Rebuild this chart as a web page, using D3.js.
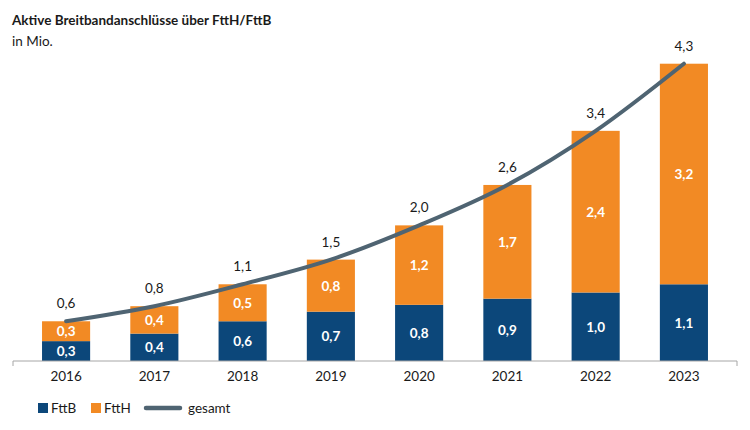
<!DOCTYPE html>
<html>
<head>
<meta charset="utf-8">
<script src="https://cdn.jsdelivr.net/npm/d3@7"></script>
<style>
  body { margin: 0; background: #fff; }
  svg { display: block; font-family: "Lato", "Noto Sans", sans-serif; }
</style>
</head>
<body>
<svg id="chart" width="750" height="430"></svg>
<script>
// data, Mio. Anschluesse
var years = ['2016', '2017', '2018', '2019', '2020', '2021', '2022', '2023'];
var fttb = [0.29, 0.40, 0.58, 0.72, 0.82, 0.91, 1.00, 1.12];
var ftth = [0.29, 0.40, 0.54, 0.76, 1.16, 1.66, 2.36, 3.22];
var seriesNames = ['FttB', 'FttH', 'gesamt'];

var colors = { FttB: '#0c477a', FttH: '#f28a24', gesamt: '#4f6472' };

var svg = d3.select('#chart');
var baseY = 361;
var fs = '13.5px';

var x = d3.scaleBand()
    .domain(years)
    .range([22, 728])
    .paddingInner(0.455)
    .paddingOuter(0.227);

var y = d3.scaleLinear()
    .domain([0, 4.4])
    .range([baseY, baseY - 4.4 * 68.5]);

function fmt(v) {
    return (Math.round(v * 10) / 10).toFixed(1).replace('.', ',');
}

var rows = years.map(function(yr, i) {
    return { year: yr, b: fttb[i], h: ftth[i], total: fttb[i] + ftth[i] };
});

// title
svg.append('text')
    .attr('x', 12).attr('y', 25)
    .style('font-size', fs).style('font-weight', 'bold').style('fill', '#1a1a1a')
    .text('Aktive Breitbandanschlüsse über FttH/FttB');
svg.append('text')
    .attr('x', 12).attr('y', 46)
    .style('font-size', fs).style('fill', '#1a1a1a')
    .text('in Mio.');

// bars
var g = svg.append('g');
var bw = x.bandwidth();

g.selectAll('rect.fttb')
    .data(rows).enter()
    .append('rect').attr('class', 'fttb')
    .attr('x', function(d) { return x(d.year); })
    .attr('y', function(d) { return y(d.b); })
    .attr('width', bw)
    .attr('height', function(d) { return y(0) - y(d.b); })
    .style('fill', colors.FttB);

g.selectAll('rect.ftth')
    .data(rows).enter()
    .append('rect').attr('class', 'ftth')
    .attr('x', function(d) { return x(d.year); })
    .attr('y', function(d) { return y(d.total); })
    .attr('width', bw)
    .attr('height', function(d) { return y(d.b) - y(d.total); })
    .style('fill', colors.FttH);

// segment labels
g.selectAll('text.lb')
    .data(rows).enter()
    .append('text').attr('class', 'lb')
    .attr('x', function(d) { return x(d.year) + bw / 2; })
    .attr('y', function(d) { return (y(0) + y(d.b)) / 2 + 5; })
    .attr('text-anchor', 'middle')
    .style('font-size', fs).style('font-weight', 'bold').style('fill', '#fff')
    .text(function(d) { return fmt(d.b); });

g.selectAll('text.lh')
    .data(rows).enter()
    .append('text').attr('class', 'lh')
    .attr('x', function(d) { return x(d.year) + bw / 2; })
    .attr('y', function(d) { return (y(d.b) + y(d.total)) / 2 + 5; })
    .attr('text-anchor', 'middle')
    .style('font-size', fs).style('font-weight', 'bold').style('fill', '#fff')
    .text(function(d) { return fmt(d.h); });

// total line
var line = d3.line()
    .x(function(d) { return x(d.year) + bw / 2; })
    .y(function(d) { return y(d.total); })
    .curve(d3.curveMonotoneX);

g.append('path')
    .datum(rows)
    .attr('d', line)
    .style('fill', 'none')
    .style('stroke', colors.gesamt)
    .style('stroke-width', 4)
    .style('stroke-linecap', 'round');

g.selectAll('text.lt')
    .data(rows).enter()
    .append('text').attr('class', 'lt')
    .attr('x', function(d) { return x(d.year) + bw / 2; })
    .attr('y', function(d) { return y(d.total) - 13; })
    .attr('text-anchor', 'middle')
    .style('font-size', fs).style('fill', '#1a1a1a')
    .text(function(d) { return fmt(d.total); });

// x axis
var axis = svg.append('g')
    .attr('transform', 'translate(0,' + baseY + ')')
    .call(d3.axisBottom(x).tickSize(0).tickPadding(10));
axis.select('.domain').remove();
axis.append('line')
    .attr('x1', 13).attr('x2', 737)
    .style('stroke', '#a6a6a6').style('stroke-width', 1);
axis.append('line')
    .attr('x1', 13).attr('x2', 13).attr('y1', 0).attr('y2', 5)
    .style('stroke', '#a6a6a6');
axis.append('line')
    .attr('x1', 737).attr('x2', 737).attr('y1', 0).attr('y2', 5)
    .style('stroke', '#a6a6a6');
axis.selectAll('.tick text')
    .style('font-size', fs)
    .style('font-family', '"Lato", "Noto Sans", sans-serif')
    .style('fill', '#1a1a1a');

// legend
var legend = svg.append('g').attr('transform', 'translate(38,403)');
var lx = [0, 53, 108];
seriesNames.forEach(function(name, i) {
    var item = legend.append('g').attr('transform', 'translate(' + lx[i] + ',0)');
    if (name === 'gesamt') {
        item.append('line')
            .attr('x1', 0).attr('x2', 34).attr('y1', 5).attr('y2', 5)
            .style('stroke', colors.gesamt).style('stroke-width', 4.5)
            .style('stroke-linecap', 'round');
        item.append('text').attr('x', 42).attr('y', 10)
            .style('font-size', fs).style('fill', '#1a1a1a').text(name);
    } else {
        item.append('rect')
            .attr('width', 10).attr('height', 10)
            .style('fill', colors[name]);
        item.append('text').attr('x', 13).attr('y', 10)
            .style('font-size', fs).style('fill', '#1a1a1a').text(name);
    }
});
</script>
</body>
</html>
